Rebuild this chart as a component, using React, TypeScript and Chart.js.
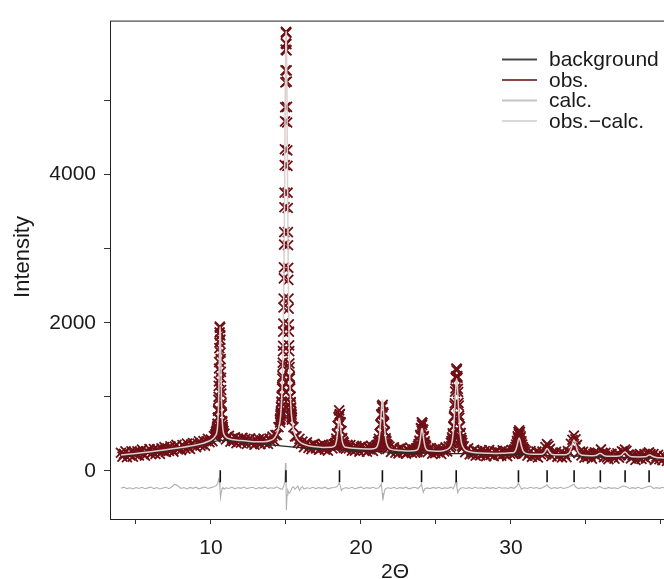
import { useEffect, useRef } from 'react';
import { Chart, registerables } from 'chart.js';

Chart.register(...registerables);

// ---------- axis ranges & ticks ----------
const X_MIN = 3.27;
const X_MAX = 41.27;
const Y_MIN = -650;
const Y_MAX = 6080;
const xTickValues = [5, 10, 15, 20, 25, 30, 35, 40];
const xTickLabelled = [10, 20, 30];
const yTickValues = [0, 1000, 2000, 3000, 4000, 5000];
const yTickLabelled = [0, 2000, 4000];

const scanStart = [4.0, 10.31, 10.9, 14.6, 15.5, 18.25, 19.0, 21.05, 21.9, 23.7, 24.45, 26.0, 26.85, 30.2, 31.0];
const scanStep = [0.1, 0.01, 0.1, 0.01, 0.1, 0.025, 0.1, 0.025, 0.1, 0.025, 0.1, 0.02, 0.1, 0.025, 0.1];
const obsRuns: number[][] = [
  [245,192,229,263,185,230,212,264,191,253,230,265,207,253,288,226,206,268,253,293,230,251,295,230,291,279,230,303,268,322,255,303,269,330,289,260,327,350,291,314,281,348,331,299,368,318,297,359,376,342,320,370,400,341,362,402,340,400,432,387,422,402,470,485],
  [496,450,498,526,475,512,476,546,521,574,541,598,572,637,633,715,720,809,829,961,1000,1147,1207,1382,1469,1657,1731,1869,1949,1935,1934,1829,1771,1597,1509,1337,1257,1092,1045,911,882,774,765,662,671,592,622,566,591,520,545,487,537,492],
  [504,424,460,474,394,436,400,453,374,435,416,381,445,393,434,363,415,440,372,403,354,421,383,429,361,412,437,373,409,365,437,398,464,410,483,484,591],
  [686,654,711,695,763,743,803,781,863,860,935,924,1003,1011,1112,1138,1247,1280,1418,1461,1617,1689,1881,1988,2206,2325,2599,2747,3056,3223,3560,3756,4128,4343,4719,4910,5246,5408,5688,5773,5928,5923,5913,5763,5678,5408,5256,4915,4704,4328,4118,3756,3550,3223,3046,2742,2579,2325,2191,1978,1881,1694,1617,1451,1403,1270,1247,1128,1112,1001,1003,914,930,845,858,776,798,728,760,690,716],
  [590,464,465,380,432,366,395,320,366,386,310,341,292,355,364,304,332,285,348,309,356,287,333,274,339,353,304,357],
  [366,322,377,359,437,409,499,502,609,609,724,734,816,758,766,658,648,540,536,435,443,360,398,342,382,309,349],
  [299,352,303,349,272,319,274,333,304,259,322,339,276,306,258,323,291,333,269,320,338],
  [344,293,352,319,393,357,432,404,500,504,623,633,756,766,876,857,891,790,773,658,643,529,524,419,439,366,399,324,356,297,344],
  [327,255,296,318,246,285,234,298,311,253,271,232,297,258,310,244,290,247],
  [304,253,308,270,339,296,361,327,410,393,484,478,576,569,656,620,647,553,559,458,468,374,398,313,350,286,331],
  [251,299,309,232,275,239,303,253,296,229,291,261,317,262,329,313],
  [379,336,402,375,452,430,508,493,595,607,722,742,881,913,1070,1112,1258,1274,1380,1358,1375,1279,1258,1107,1065,918,881,747,717,597,595,503,513,420,447,380,412,341,379,313],
  [332,251,287,304,222,258,225,283,205,264,243,210,277,227,268,200,252,280,215,244,197,261,271,218,247,204,277,229,266,197,260,232,281,229],
  [283,233,291,255,322,282,355,326,403,378,465,441,525,496,548,491,525,446,465,378,398,316,355,282,317,250,296,233,283],
  [268,205,242,266,190,229,204,259,181,242,222,261,228,321,362,338,296,199,246,222,257,190,208,247,181,241,226,186,266,249,364,420,478,425,350,240,261,208,258,179,225,185,242,197,165,230,249,198,242,225,289,245,186,244,183,158,217,229,192,165,212,237,179,207,265,252,286,270,213,218,169,214,199,148,217,172,228,162,193,225,165,233,250,226,206,227,147,193,215,159,182,144,198,186,134,191,160],
];

// ---------- background (2θ, intensity) ----------
const backgroundPoints: [number, number][] = [
  [4,200],[5,225],[6,252],[7,280],[8,310],[9,345],[10,385],[10.6,410],[11,412],[12,395],[13,373],[14,350],[15,330],[16,313],[17,300],[18,290],[19,280],[20,270],[21,260],[22,252],[23,246],[24,241],[25,237],[26,234],[27,232],[28,230],[29,228],[30,225],[31,217],[32,212],[33,207],[34,201],[35,195],[36,190],[37,185],[38,180],[39,175],[40,170],[41,166],
];

// ---------- calculated profile (2θ, intensity) ----------
const calcPoints: [number, number][] = [
  [4.0,215],[5.0,235],[6.0,258],[7.0,285],[8.0,315],[9.0,350],[9.5,374],[9.8,396],[10.0,416],[10.2,448],[10.3,476],
  [10.37,504],[10.43,576],[10.47,690],[10.51,931],[10.54,1237],[10.57,1627],[10.59,1854],[10.61,1945],[10.63,1854],[10.65,1627],[10.68,1237],[10.71,931],[10.75,690],[10.79,576],[10.85,504],[10.9,482],[11.0,456],[11.2,434],[11.5,420],[12.0,409],[12.5,400],[13.0,393],[13.5,393],[14.0,413],[14.2,438],[14.4,504],[14.5,566],
  [14.6,666],[14.65,758],[14.7,905],[14.75,1153],[14.8,1597],[14.84,2176],[14.87,2777],[14.9,3525],[14.93,4378],[14.96,5216],[14.98,5653],[15.0,5903],[15.01,5933],[15.02,5898],[15.04,5648],[15.06,5211],[15.09,4373],[15.12,3520],[15.15,2772],[15.18,2171],[15.22,1592],[15.27,1148],[15.32,900],[15.37,753],[15.44,640],[15.5,560],[15.6,489],[15.8,415],[16.0,378],[16.5,340],[17.0,324],[17.5,316],[18.0,318],[18.2,330],
  [18.3,350],[18.4,440],[18.45,529],[18.5,634],[18.53,688],[18.56,709],[18.6,673],[18.65,566],[18.7,474],[18.75,402],[18.8,363],[18.9,325],[19.0,318],[19.5,304],[20.0,297],[20.5,295],[20.8,299],[21.0,310],
  [21.1,340],[21.2,420],[21.25,503],[21.3,630],[21.35,786],[21.4,927],[21.43,958],[21.46,927],[21.5,817],[21.55,658],[21.6,523],[21.65,434],[21.7,377],[21.8,325],[21.9,300],[22.0,290],[22.5,276],[23.0,268],[23.5,272],[23.7,279],
  [23.8,294],[23.9,357],[23.95,417],[24.0,497],[24.04,555],[24.07,571],[24.1,555],[24.15,483],[24.2,405],[24.25,347],[24.3,312],[24.4,280],[24.6,270],[25.0,264],[25.5,273],[25.8,295],
  [26.0,341],[26.1,426],[26.2,641],[26.26,862],[26.3,1034],[26.34,1182],[26.38,1243],[26.42,1182],[26.46,1034],[26.5,862],[26.56,641],[26.62,491],[26.7,382],[26.8,323],[26.9,293],[27.0,275],[27.5,248],[28.0,240],[29.0,236],[29.5,237],[30.0,244],
  [30.2,248],[30.3,273],[30.4,333],[30.45,378],[30.5,422],[30.55,443],[30.6,422],[30.65,378],[30.7,333],[30.8,273],[30.9,248],[31.0,236],[31.5,224],[32.0,224],
  [32.1,227],[32.2,240],[32.3,269],[32.4,301],[32.5,282],[32.6,247],[32.7,226],[32.8,220],[33.0,217],[33.5,216],[33.6,218],[33.7,221],[33.8,229],[33.9,249],[34.0,294],[34.1,367],[34.2,416],[34.3,366],[34.4,292],[34.5,246],[34.6,225],[34.7,215],[34.8,210],[35.0,207],
  [35.5,204],[35.7,210],[35.8,223],[35.9,236],[36.0,236],[36.1,220],[36.2,207],[36.4,197],[36.8,196],[37.2,200],[37.3,205],[37.4,220],[37.5,241],[37.6,254],[37.7,240],[37.8,218],[37.9,202],[38.1,189],[38.5,188],[38.9,190],[39.0,192],[39.1,203],[39.2,214],[39.3,213],[39.4,201],[39.5,190],[39.7,181],[40.0,176],[40.6,170],
];

// ---------- difference curve obs.−calc. (2θ, intensity, plotted with offset) ----------
const diffPoints: [number, number][] = [
  [4.0,-235],[4.2,-220],[4.4,-240],[4.6,-228],[4.8,-245],[5.0,-225],[5.2,-238],[5.4,-222],[5.6,-242],[5.8,-230],[6.0,-218],[6.2,-240],[6.4,-226],[6.6,-244],[6.8,-232],[7.0,-222],[7.2,-240],[7.4,-215],[7.6,-180],[7.8,-205],[8.0,-238],[8.2,-226],[8.4,-244],[8.6,-224],[8.8,-236],[9.0,-220],[9.2,-242],[9.4,-230],[9.6,-218],[9.8,-238],[10.0,-226],[10.2,-215],
  [10.35,-200],[10.45,-170],[10.52,-110],[10.56,-140],[10.6,-240],[10.64,-360],[10.68,-300],[10.74,-240],[10.8,-225],[10.9,-245],[11.0,-228],[11.2,-238],[11.4,-220],[11.6,-242],[11.8,-226],[12.0,-236],[12.2,-218],[12.4,-240],[12.6,-228],[12.8,-222],[13.0,-244],[13.2,-226],[13.4,-236],[13.6,-220],[13.8,-240],[14.0,-228],[14.2,-236],[14.4,-215],[14.6,-240],
  [14.75,-250],[14.85,-205],[14.92,-150],[14.97,105],[15.0,-100],[15.03,-530],[15.07,-330],[15.12,-260],[15.2,-300],[15.3,-285],[15.4,-230],[15.5,-215],[15.6,-250],[15.7,-225],[15.8,-205],[15.9,-265],[16.0,-230],[16.1,-215],[16.2,-245],[16.4,-228],[16.6,-238],[16.8,-222],[17.0,-240],[17.2,-226],[17.4,-236],[17.6,-220],[17.8,-242],[18.0,-230],[18.2,-225],
  [18.4,-215],[18.5,-185],[18.55,-160],[18.62,-200],[18.7,-265],[18.8,-240],[19.0,-226],[19.2,-238],[19.4,-222],[19.6,-242],[19.8,-230],[20.0,-220],[20.2,-240],[20.4,-226],[20.6,-236],[20.8,-222],[21.0,-238],[21.2,-228],
  [21.3,-200],[21.36,-175],[21.42,-300],[21.46,-400],[21.52,-320],[21.6,-250],[21.7,-235],[21.8,-228],[22.0,-238],[22.2,-222],[22.4,-240],[22.6,-226],[22.8,-236],[23.0,-220],[23.2,-242],[23.4,-230],[23.6,-222],[23.8,-238],
  [23.95,-210],[24.04,-175],[24.1,-250],[24.16,-290],[24.24,-245],[24.4,-230],[24.6,-240],[24.8,-224],[25.0,-236],[25.2,-222],[25.4,-240],[25.6,-228],[25.8,-236],[26.0,-220],
  [26.15,-240],[26.28,-180],[26.34,-135],[26.4,-230],[26.46,-295],[26.54,-255],[26.65,-235],[26.8,-225],[27.0,-238],[27.2,-226],[27.4,-240],[27.6,-222],[27.8,-234],[28.0,-228],[28.2,-240],[28.4,-224],[28.6,-236],[28.8,-226],[29.0,-240],[29.2,-222],[29.4,-234],[29.6,-228],[29.8,-238],[30.0,-224],[30.2,-236],
  [30.4,-205],[30.5,-165],[30.58,-200],[30.7,-245],[30.9,-228],[31.1,-238],[31.3,-222],[31.5,-234],[31.7,-226],[31.9,-240],[32.1,-228],[32.3,-205],[32.4,-185],[32.5,-215],[32.7,-240],[32.9,-226],[33.1,-236],[33.3,-222],[33.5,-238],[33.7,-228],[33.9,-215],[34.1,-190],[34.2,-180],[34.3,-215],[34.5,-240],
  [34.7,-228],[34.9,-236],[35.1,-222],[35.3,-238],[35.5,-226],[35.7,-234],[35.9,-210],[36.1,-232],[36.3,-240],[36.5,-224],[36.7,-236],[36.9,-228],[37.1,-240],[37.3,-222],[37.5,-205],[37.7,-215],[37.9,-238],[38.1,-226],[38.3,-236],[38.5,-222],[38.7,-240],[38.9,-228],[39.1,-215],[39.3,-205],[39.5,-238],[39.7,-226],[39.9,-236],[40.1,-222],[40.3,-238],[40.5,-228],[40.7,-234],
];

// ---------- reflection positions ----------
const reflections = [10.62, 15.0, 18.57, 21.43, 24.04, 26.35, 30.5, 32.41, 34.21, 35.96, 37.61, 39.21];
const reflectionLevel = -73;

const seriesLabels = ['background', 'obs.', 'calc.', 'obs.\u2212calc.'];

// ---------- styles ----------
const FONT = "'Liberation Sans', Arial, Helvetica, sans-serif";
const legendColors = ['#474747', '#8a4646', '#c4c4c4', '#d8d8d8'];

function buildObs() {
  const pts: { x: number; y: number }[] = [];
  obsRuns.forEach((run, r) => {
    run.forEach((v, i) => {
      pts.push({ x: +(scanStart[r] + scanStep[r] * i).toFixed(3), y: v });
    });
  });
  return pts;
}
const toXY = (arr: [number, number][]) => arr.map(([x, y]) => ({ x, y }));

const framePlugin = {
  id: 'frameAndLegend',
  afterDatasetsDraw(chart: any) {
    const { ctx, chartArea } = chart;
    ctx.save();
    ctx.strokeStyle = '#222';
    ctx.lineWidth = 1;
    ctx.strokeRect(chartArea.left + 0.5, chartArea.top + 0.5, chartArea.right - chartArea.left, chartArea.bottom - chartArea.top);
    ctx.restore();
  },
  afterDraw(chart: any) {
    const ctx = chart.ctx;
    ctx.save();
    ctx.font = `21px ${FONT}`;
    ctx.textBaseline = 'middle';
    ctx.textAlign = 'left';
    seriesLabels.forEach((lab, i) => {
      const y = 59.5 + i * 20.5;
      ctx.strokeStyle = legendColors[i];
      ctx.lineWidth = 2;
      ctx.beginPath();
      ctx.moveTo(502, y);
      ctx.lineTo(537, y);
      ctx.stroke();
      ctx.fillStyle = '#1a1a1a';
      ctx.fillText(lab, 549, y + 1);
    });
    ctx.translate(23, 257);
    ctx.rotate(-Math.PI / 2);
    ctx.textAlign = 'center';
    ctx.font = `22px ${FONT}`;
    ctx.fillStyle = '#1a1a1a';
    ctx.fillText('Intensity', 0, 0);
    ctx.restore();
  },
};

export default function App() {
  const ref = useRef<HTMLCanvasElement>(null);
  useEffect(() => {
    if (!ref.current) return;
    const chart = new Chart(ref.current, {
      type: 'scatter',
      data: {
        datasets: [
          {
            label: seriesLabels[0],
            data: toXY(backgroundPoints),
            showLine: true,
            borderColor: '#2a2a2a',
            borderWidth: 1.2,
            pointRadius: 0,
            cubicInterpolationMode: 'monotone',
            order: 4,
          },
          {
            label: seriesLabels[1],
            data: buildObs(),
            showLine: false,
            pointStyle: 'crossRot',
            pointRadius: 7,
            pointBorderWidth: 1.8,
            pointBorderColor: '#6e1016',
            pointBackgroundColor: '#6e1016',
            borderColor: '#6e1016',
            order: 5,
          },
          {
            label: seriesLabels[2],
            data: toXY(calcPoints),
            showLine: true,
            borderColor: '#dccfcf',
            borderWidth: 1.5,
            pointRadius: 0,
            cubicInterpolationMode: 'monotone',
            order: 3,
          },
          {
            label: seriesLabels[3],
            data: toXY(diffPoints),
            showLine: true,
            borderColor: '#b0b0b0',
            borderWidth: 1.1,
            pointRadius: 0,
            tension: 0,
            order: 2,
          },
          {
            label: 'reflections',
            data: reflections.map((x) => ({ x, y: reflectionLevel })),
            showLine: false,
            pointStyle: 'line',
            rotation: 90,
            pointRotation: 90,
            pointRadius: 6,
            pointBorderWidth: 1.6,
            pointBorderColor: '#111',
            borderColor: '#111',
            order: 1,
          } as any,
        ],
      },
      options: {
        animation: false,
        responsive: false,
        devicePixelRatio: 1,
        events: [],
        layout: { padding: { top: 14, right: 10, left: 0, bottom: 0 } },
        plugins: { legend: { display: false }, tooltip: { enabled: false } },
        scales: {
          x: {
            type: 'linear',
            min: X_MIN,
            max: X_MAX,
            afterFit: (s: any) => { s.height = 66; },
            afterBuildTicks: (s: any) => { s.ticks = xTickValues.map((v) => ({ value: v })); },
            border: { display: false },
            grid: { display: true, drawOnChartArea: false, drawTicks: true, tickLength: 5, color: '#333', lineWidth: 1 },
            ticks: {
              autoSkip: false,
              maxRotation: 0,
              padding: 12,
              color: '#1a1a1a',
              font: { family: FONT, size: 21 },
              callback: (v: any) => (xTickLabelled.includes(Number(v)) ? String(v) : ''),
            },
            title: { display: true, text: '2\u0398', color: '#1a1a1a', font: { family: FONT, size: 21 }, padding: { top: 0, bottom: 0 } },
          },
          y: {
            type: 'linear',
            min: Y_MIN,
            max: Y_MAX,
            afterFit: (s: any) => { s.width = 110; },
            afterBuildTicks: (s: any) => { s.ticks = yTickValues.map((v) => ({ value: v })); },
            border: { display: false },
            grid: { display: true, drawOnChartArea: false, drawTicks: true, tickLength: 6, color: '#333', lineWidth: 1 },
            ticks: {
              autoSkip: false,
              padding: 8,
              color: '#1a1a1a',
              font: { family: FONT, size: 21 },
              callback: (v: any) => (yTickLabelled.includes(Number(v)) ? String(v) : ''),
            },
          },
        },
      },
      plugins: [framePlugin],
    } as any);
    return () => chart.destroy();
  }, []);
  return (
    <div style={{ position: 'fixed', left: 0, top: 0, width: 664, height: 579, overflow: 'hidden', background: '#fff' }}>
      <canvas ref={ref} width={690} height={585} style={{ display: 'block' }} />
    </div>
  );
}
